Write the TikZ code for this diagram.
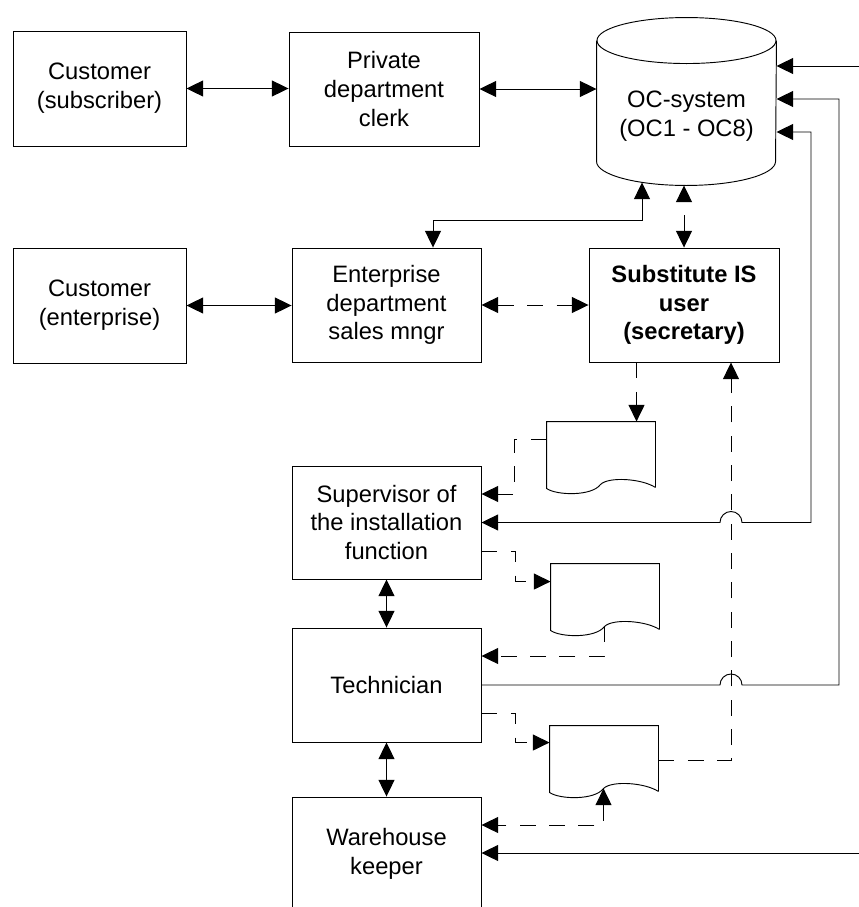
\documentclass[tikz,border=0pt]{standalone}
\usepackage{fontspec}
\setmainfont{Liberation Sans}
\usetikzlibrary{arrows.meta,calc,positioning}
\tikzset{
        block/.style = {draw, rectangle, inner sep=0pt,
            minimum height=85.5pt,
            minimum width=141.75pt, align=center,
            font=\fontsize{17.8pt}{21.5pt}\selectfont},
        custblock/.style = {block, minimum width=129.75pt, minimum height=86.25pt},
        docnode/.style = {rectangle, inner sep=0pt, minimum width=81pt, minimum height=49.5pt},
        arrow/.style={draw, -{Triangle[length=12.5pt,width=12pt]}},
        biarrow/.style={draw, {Triangle[length=12.5pt,width=12pt]}-{Triangle[length=12.5pt,width=12pt]}},
        dasharrow/.style={arrow, dash pattern=on 12pt off 10pt},
        dashbiarrow/.style={biarrow, dash pattern=on 12pt off 10pt},
    }
% paper document outline with wavy bottom, drawn round a docnode
\newcommand{\docoutline}[1]{%
    \draw ($(#1.south east)+(0,-1)$) -- (#1.north east) -- (#1.north west) -- (#1.south west)
        .. controls ($(#1.south west)+(10,7)$) and ($(#1.south west)+(45,8)$) .. ($(#1.south west)+(54,-4)$)
        .. controls ($(#1.south west)+(62,-12)$) and ($(#1.south west)+(95,-10)$) .. ($(#1.south east)+(0,-1)$);
    \coordinate (#1-notch) at ($(#1.south west)+(54,-4)$);
}

\begin{document}
\begin{tikzpicture}[x=0.75pt,y=0.75pt,yscale=-1,xscale=1, line width=0.7pt]
    \useasboundingbox (0,0) rectangle (859,907);
    \clip (0,0) rectangle (859,907);

    % Roles
    \node[custblock] (cust1) at (99.5,88.5) {Customer\\(subscriber)};
    \node[block, minimum width=142.5pt] (clerk) at (384,89) {Private\\department\\clerk};
    \node[custblock] (cust2) at (99.5,305.5) {Customer\\(enterprise)};
    \node[block] (ent) at (386.5,305) {Enterprise\\department\\sales mngr};
    \node[block, minimum width=142.5pt, font={\fontsize{17.8pt}{21.5pt}\selectfont\bfseries}] (subst) at (684,305) {Substitute IS\\user\\(secretary)};
    \node[block, minimum height=84.75pt] (super) at (386.5,522.5) {Supervisor of\\the installation\\function};
    \node[block] (tech) at (386.5,685) {Technician};
    \node[block] (wh) at (386.5,854) {Warehouse\\keeper};

    % OC system, cylinder drawn round the node
    \node[rectangle, inner sep=0pt, minimum width=134.25pt, minimum height=103.5pt, align=center,
        font=\fontsize{17.8pt}{21.5pt}\selectfont] (oc) at (686.5,116) {OC-system\\(OC1 - OC8)};
    \draw ($(oc.north west)+(0,-6)$) -- ($(oc.south west)+(0,-24)$)
        arc[start angle=180, end angle=0, x radius=89.5, y radius=24] -- ($(oc.north east)+(0,-6)$);
    \draw ($(oc.north)+(0,-6)$) ellipse [x radius=89.5, y radius=23];

    % Documents
    \node[docnode] (doc1) at (601,455) {};
    \node[docnode] (doc2) at (605,597) {};
    \node[docnode] (doc3) at (604,759) {};
    \docoutline{doc1}
    \docoutline{doc2}
    \docoutline{doc3}

    \coordinate (feed) at ($(subst.south)+(47,0)$);
    \coordinate (railA) at (811,0);
    \coordinate (railB) at (839,0);
    \coordinate (inA) at (859,66);
    \coordinate (inB) at (859,853);
    \coordinate (doc1in) at ($(doc1.north west)+(90,0)$);

    % Top rows
    \draw[biarrow] (cust1.east) -- (cust1.east -| clerk.west);
    \draw[biarrow] (clerk.east) -- (clerk.east -| oc.west);
    \draw[biarrow] (cust2.east) -- (cust2.east -| ent.west);
    \draw[dashbiarrow] (ent.east) -- (ent.east -| subst.west);
    \draw[biarrow] ($(ent.north)+(46.5,0)$) |- ($(oc.south)+(-44.5,35)$) -- ($(oc.south)+(-44.5,-3)$);
    \draw[dashbiarrow] (subst.north) -- (subst.north |- oc.south);
    \draw[arrow] (inA) -- (inA -| oc.east);

    % Paper flow
    \draw[dasharrow] (subst.south -| doc1in) -- (doc1in);
    \draw[dasharrow] ($(doc1.north west)+(0,18)$) -- ++(-32,0) |- ($(super.east)+(0,-28.5)$);
    \draw[dasharrow] ($(super.east)+(0,28.5)$) -- ++(34,0) |- ($(doc2.north west)+(0,18)$);
    \draw[dasharrow] (doc2-notch) |- ($(tech.east)+(0,-29)$);
    \draw[dasharrow] ($(tech.east)+(0,28)$) -- ++(34,0) |- ($(doc3.north west)+(0,17)$);
    \draw[dasharrow] ($(doc3.north east)+(0,35)$) -| (feed);
    \draw[dashbiarrow] (doc3-notch) |- ($(wh.east)+(0,-29)$);

    % Links to the OC system
    \draw[biarrow] (super.east) -- ($(super.east -| feed)+(-11,0)$) arc[start angle=180, end angle=360, radius=11]
        -- (super.east -| railA) |- ($(oc.east)+(0,16)$);
    \draw[arrow] (tech.east) -- ($(tech.east -| feed)+(-11,0)$) arc[start angle=180, end angle=360, radius=11]
        -- (tech.east -| railB) |- ($(oc.east)+(0,-17)$);
    \draw[arrow] (inB) -- (inB -| wh.east);

    % Chain of roles
    \draw[biarrow] (super.south) -- (tech.north);
    \draw[biarrow] (tech.south) -- (wh.north);
\end{tikzpicture}
\end{document}
